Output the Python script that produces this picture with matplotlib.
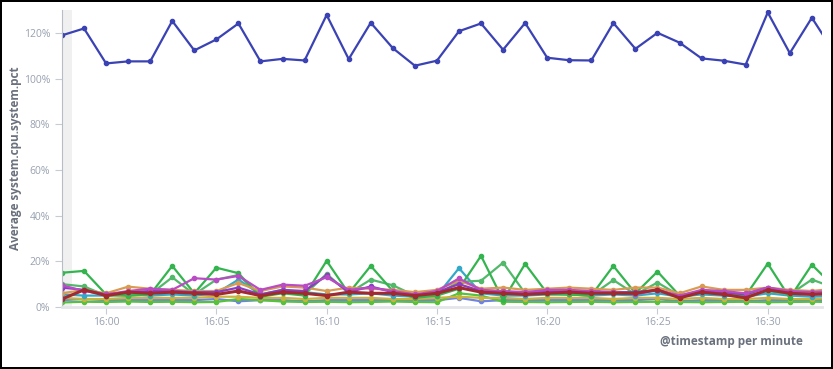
import matplotlib
matplotlib.use("Agg")
import matplotlib.pyplot as plt
import matplotlib.dates as mdates
import pandas as pd

plt.rcParams["font.family"] = ["Open Sans", "DejaVu Sans"]

# minutes 15:58 .. 16:33
times = pd.date_range("2019-01-01 15:58", periods=36, freq="min")

host_blue = [118.9, 121.9, 106.6, 107.5, 107.5, 125.2, 112.3, 117.1, 124.1, 107.5,
             108.6, 107.9, 127.8, 108.5, 124.4, 113.3, 105.6, 107.8, 120.7, 124.1,
             112.6, 124.3, 109.1, 108.0, 107.9, 124.3, 113.0, 120.0, 115.7, 108.8,
             107.8, 106.1, 128.9, 111.1, 126.6, 111.6]

green_a = [15.0, 15.8, 5.5, 5.0, 5.5, 18.0, 6.0, 17.2, 14.8, 4.5, 6.0, 5.0, 20.2, 6.0,
           18.0, 7.0, 4.0, 5.0, 8.0, 22.4, 3.0, 18.9, 6.0, 5.5, 5.0, 18.0, 6.0, 15.5,
           5.0, 7.0, 5.5, 5.0, 19.0, 4.0, 18.5, 9.0]
green_b = [10.0, 9.0, 5.0, 5.0, 5.5, 13.0, 5.5, 12.0, 14.0, 5.0, 6.5, 5.5, 14.5, 6.0,
           12.0, 9.5, 5.0, 5.5, 11.0, 11.5, 19.4, 6.0, 5.5, 5.5, 5.0, 11.8, 5.5, 10.7,
           5.0, 6.5, 5.5, 5.0, 7.0, 5.5, 12.0, 8.5]
green_c = [2.0, 2.3, 2.2, 2.4, 2.2, 2.3, 2.1, 2.2, 3.5, 3.0, 2.4, 2.2, 2.3, 2.1, 2.2,
           2.4, 2.2, 2.1, 6.0, 5.0, 2.3, 2.2, 2.1, 2.2, 2.3, 2.1, 2.2, 2.3, 2.2, 2.1,
           2.2, 2.3, 2.1, 2.2, 2.3, 2.2]
magenta = [9.5, 7.0, 5.5, 7.0, 8.0, 7.5, 12.6, 12.0, 13.6, 7.5, 9.8, 9.3, 13.0, 7.5,
           8.5, 7.0, 5.5, 7.0, 12.5, 7.5, 7.0, 6.5, 7.5, 7.5, 7.0, 6.5, 5.5, 7.5, 5.0,
           7.5, 7.0, 6.0, 8.5, 7.0, 6.5, 7.0]
purple = [8.5, 7.5, 5.5, 6.5, 7.0, 7.0, 6.5, 6.5, 8.5, 5.5, 7.5, 7.0, 13.8, 6.5, 9.0,
          6.5, 5.0, 6.5, 10.0, 7.0, 6.5, 6.0, 7.0, 7.0, 6.5, 6.5, 6.5, 7.5, 4.5, 7.0,
          6.5, 5.5, 8.5, 6.5, 6.0, 6.5]
orange = [6.0, 7.5, 6.0, 8.9, 8.0, 7.5, 7.0, 7.0, 10.5, 7.0, 9.0, 8.5, 7.0, 8.5, 8.0,
          7.5, 6.5, 7.5, 11.5, 8.0, 8.5, 7.5, 8.0, 8.5, 8.0, 7.5, 8.5, 8.5, 6.0, 9.0,
          7.5, 7.5, 8.5, 7.5, 7.0, 8.0]
darkred = [3.5, 7.5, 5.0, 6.5, 6.0, 6.5, 6.0, 5.5, 7.0, 5.0, 6.5, 6.0, 5.0, 6.5, 6.0,
           6.0, 5.0, 6.0, 8.5, 6.5, 6.0, 5.5, 6.0, 6.5, 6.0, 6.0, 6.0, 7.5, 4.0, 6.5,
           5.5, 4.0, 7.5, 6.0, 5.5, 6.0]
teal = [5.5, 5.0, 5.0, 5.5, 5.0, 5.5, 5.0, 6.0, 12.0, 5.5, 7.5, 6.5, 5.5, 5.5, 6.0,
        5.0, 4.5, 5.0, 17.0, 6.0, 5.0, 5.0, 5.5, 5.5, 5.0, 5.5, 5.0, 6.0, 4.5, 5.5,
        5.0, 4.5, 6.0, 5.0, 4.5, 5.0]
olive = [4.0, 3.5, 3.5, 4.0, 4.0, 4.0, 4.0, 4.5, 4.5, 4.0, 4.0, 3.5, 4.0, 4.0, 4.0,
         3.5, 3.5, 4.0, 4.5, 4.0, 4.0, 3.5, 4.0, 4.0, 4.0, 3.5, 4.0, 4.0, 3.5, 4.0,
         3.5, 3.5, 4.0, 3.5, 3.5, 4.0]
periwinkle = [3.0, 3.5, 3.0, 3.0, 3.0, 3.0, 3.0, 3.5, 2.5, 3.0, 3.0, 2.5, 3.0, 3.0, 3.0,
              3.0, 3.0, 3.0, 4.0, 2.5, 3.0, 3.0, 3.0, 3.0, 3.0, 3.0, 3.0, 3.5, 2.5, 3.0,
              3.0, 2.5, 3.0, 3.0, 3.0, 3.0]

series = [
    (periwinkle, "#6f83e6"),
    (green_c, "#56c13a"),
    (olive, "#c9b23d"),
    (teal, "#33a9c9"),
    (green_b, "#52b86a"),
    (green_a, "#34b44f"),
    (orange, "#d99b52"),
    (purple, "#8a3dc4"),
    (magenta, "#b94bc4"),
    (darkred, "#a12a30"),
    (host_blue, "#3a42b4"),
]

yticks = [0, 20, 40, 60, 80, 100, 120]

fig = plt.figure(figsize=(8.33, 3.69), dpi=100)
fig.patch.set_edgecolor("black")
fig.patch.set_linewidth(1.5)
ax = fig.add_axes([0.0744, 0.168, 0.9124, 0.805])

x0 = times[0]
x1 = times[0] + pd.Timedelta(minutes=34.46)
ax.axvspan(x0, x0 + pd.Timedelta(minutes=0.45), color="#f0f0f0", zorder=0, lw=0)

for vals, col in series:
    lw = 2.2 if col == "#a12a30" else 1.6
    ax.plot(times, vals, color=col, lw=lw, marker="o", ms=3, mec=col, zorder=2)

ax.set_xlim(x0, x1)
ax.set_ylim(0, 130)
ax.set_yticks(yticks)
ax.set_yticklabels([f"{t}%" for t in yticks])
ax.xaxis.set_major_locator(mdates.MinuteLocator(byminute=range(0, 60, 5)))
ax.xaxis.set_major_formatter(mdates.DateFormatter("%H:%M"))

for s in ["top", "right"]:
    ax.spines[s].set_visible(False)
ax.spines["left"].set_color("#b8bcc4")
ax.spines["bottom"].set_color("#e3e5e8")
ax.spines["bottom"].set_linewidth(2)
ax.tick_params(axis="both", colors="#c8ccd2", labelcolor="#98a1b0", labelsize=7.5, length=5)
ax.tick_params(axis="x", pad=2)

fig.text(16 / 833, 1 - 158 / 369, "Average system.cpu.system.pct", rotation=90,
         ha="center", va="center", fontsize=8.5, fontweight="bold", color="#6a717d")
fig.text(803 / 833, 1 - 341 / 369, "@timestamp per minute", ha="right", va="center",
         fontsize=8.5, fontweight="bold", color="#6a717d")

fig.savefig("out.png", dpi=100, facecolor="white", edgecolor="black")
